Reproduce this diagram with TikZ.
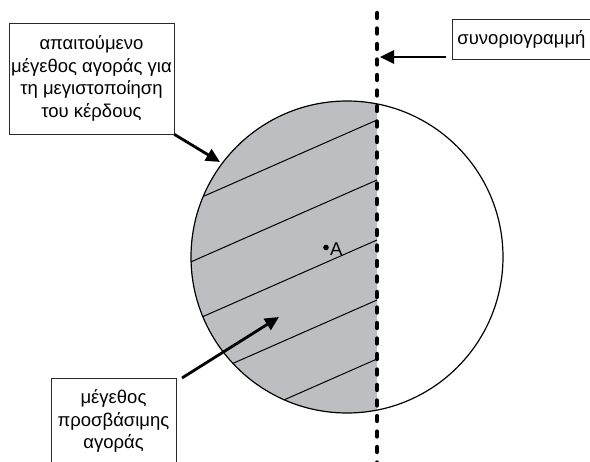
\documentclass[tikz,border=0pt]{standalone}
\usepackage{fontspec}
\setmainfont{Liberation Sans}
\usetikzlibrary{arrows.meta}
\definecolor{areagray}{HTML}{BDBEC1}
\definecolor{edge}{HTML}{2A2A2A}
\tikzset{
  labelbox/.style={draw=edge, line width=0.9pt, fill=white, align=center, inner sep=0pt,
    font=\fontsize{18.5}{22.7}\selectfont},
  pointer/.style={line width=2.8pt, -{Triangle[length=14pt,width=13pt]}},
  hatch/.style={line width=1pt},
  boundary/.style={line width=4.3pt, line cap=round, dash pattern=on 5pt off 10.5pt},
}
\begin{document}
\begin{tikzpicture}[x=1pt,y=-1pt]
\useasboundingbox (0,0) rectangle (590,462);
% shaded half of the circle
\begin{scope}
  \clip (0,0) rectangle (377,462);
  \fill[areagray] (347,257) circle[radius=156];
  \clip (347,257) circle[radius=156];
  \foreach \y in {120,180,240,300,359}{
    \draw[hatch] (150,{\y+0.44*227}) -- (377,\y);
  }
\end{scope}
\draw[line width=1.2pt] (347,257) circle[radius=156];
% boundary line
\coordinate (btop) at (377,13);
\coordinate (bbot) at (377,470);
\draw[boundary] (btop) -- (bbot);
% point A
\fill (326,247.5) circle[radius=2.8];
\node[font=\fontsize{18.5}{22}\selectfont, anchor=west, inner sep=0pt] (A) at (330,249) {A};
% boxes
\node[labelbox, minimum width=165, minimum height=111] (req) at (91.5,78.5)
  {απαιτούμενο\\μέγεθος αγοράς για\\τη μεγιστοποίηση\\του κέρδους};
\node[labelbox, minimum width=125, minimum height=86] (acc) at (113.5,421)
  {μέγεθος\\προσβάσιμης\\αγοράς};
\node[labelbox, align=left, anchor=west, minimum width=170, minimum height=40, text width=160, inner xsep=5pt] (bnd) at (452,39)
  {συνοριογραμμή};
% arrow targets
\coordinate (t1) at (220,162);
\coordinate (t2) at (380,57);
\coordinate (t3) at (279,317);
\coordinate (s3) at (182,378);
\coordinate (s2) at (446,57);
\draw[pointer] (req.south east) -- (t1);
\draw[pointer] (s2) -- (t2);
\draw[pointer] (s3) -- (t3);
\end{tikzpicture}
\end{document}
